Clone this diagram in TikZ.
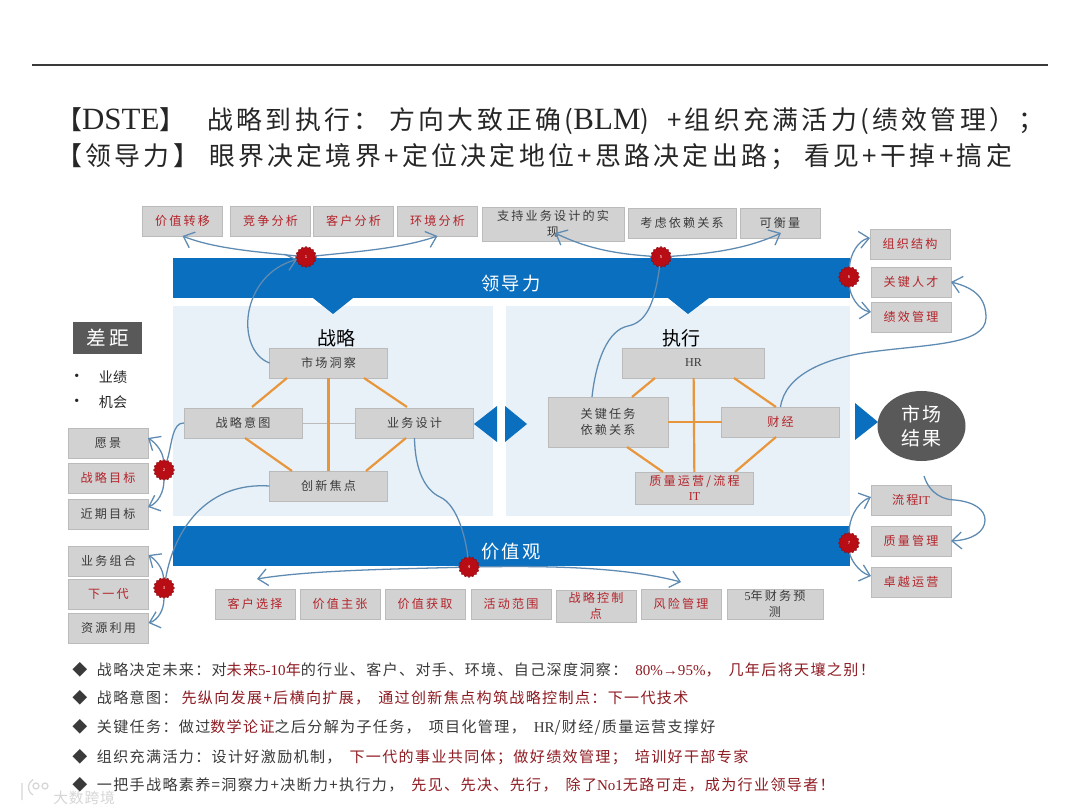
\documentclass[tikz,border=0pt]{standalone}
\usepackage{xcolor}
\usepackage{fontspec}
\usepackage{tikz}
\usetikzlibrary{shapes.geometric, arrows.meta, positioning, calc}
\setmainfont{Noto Sans CJK SC}
\newfontfamily\latfont{Liberation Serif}
\newcommand{\lat}[1]{{\latfont #1}}
\newcommand{\biglat}[1]{{\fontsize{22}{22}\latfont #1}}
\definecolor{barblue}{HTML}{0A6FBE}
\definecolor{panelblue}{HTML}{E8F1F8}
\definecolor{boxgray}{HTML}{D2D2D2}
\definecolor{boxline}{HTML}{BBBBBB}
\definecolor{darkgray}{HTML}{595959}
\definecolor{inkgray}{HTML}{3A3A3A}
\definecolor{inkred}{HTML}{B4232A}
\definecolor{noteRed}{HTML}{8E1B22}
\definecolor{edgeorange}{HTML}{E8963C}
\definecolor{curveblue}{HTML}{5F8BB3}
\definecolor{markred}{HTML}{B80D14}
\tikzset{
    boxfont/.style={font=\fontsize{8.6}{11}\selectfont\addfontfeature{LetterSpace=18}},
    graybox/.style={draw=boxline, fill=boxgray, inner sep=0pt, outer sep=0pt, minimum width=20mm, minimum height=7.5mm, align=center, text=inkgray, boxfont},
    redbox/.style={graybox, text=inkred},
    centerbox/.style={graybox, minimum width=29.5mm},
    bar/.style={fill=barblue, inner sep=0pt, outer sep=0pt, minimum width=169.25mm, minimum height=10mm},
    barlabel/.style={inner sep=0pt, text=white, font=\fontsize{13}{15}\selectfont\addfontfeature{LetterSpace=12}},
    panel/.style={fill=panelblue, inner sep=0pt, minimum height=52.5mm},
    badge/.style={star, star points=16, star point ratio=1.16, fill=markred, draw=markred!80!black, inner sep=0pt, outer sep=0pt, minimum size=5.2mm, text=white, font=\fontsize{3}{3}\selectfont},
    link/.style={edgeorange, line width=0.55mm},
    curve/.style={curveblue, line width=0.32mm},
    curvetip/.style={curve, -{Straight Barb[length=2.4mm, width=4.2mm]}},
    head/.style={font=\fontsize{13.5}{15}\selectfont, inner sep=0pt},
    titleline/.style={anchor=west, inner sep=0pt, font=\fontsize{18.4}{22}\selectfont\addfontfeature{LetterSpace=13}, text=black!85},
    noteline/.style={anchor=west, inner sep=0pt, font=\fontsize{10.7}{12}\selectfont\addfontfeature{LetterSpace=9}, text=inkgray},
    gapitem/.style={inner sep=0pt, font=\fontsize{10}{12}\selectfont, text=black!85},
    pointer/.style={fill=barblue},
    ghost/.style={black!16, line width=0.3mm}
}
\begin{document}
\begin{tikzpicture}[x=0.25mm, y=-0.25mm]
    \useasboundingbox (0,0) rectangle (1080,810);
    \fill[white] (0,0) rectangle (1080,810);
    \draw[inkgray, line width=0.4mm] (32,65) -- (1048,65);

    \node[titleline] (title1) at (56,121) {【\biglat{DSTE}】\hspace{5.5mm}战略到执行：\hspace{2.5mm}方向大致正确(\biglat{BLM})\hspace{4.5mm}+组织充满活力(绩效管理）；};
    \node[titleline] (title2) at (56,157) {【领导力】\hspace{2.5mm}眼界决定境界+定位决定地位+思路决定出路；\hspace{2mm}看见+干掉+搞定};

    \node[panel, minimum width=80mm] (panelL) at (333,411) {};
    \node[panel, minimum width=86mm] (panelR) at (678,411) {};
    \node[bar] (barT) at (511.5,278) {};
    \node[bar] (barB) at (511.5,546) {};
    \node[barlabel] (barTtext) at (511,284) {领导力};
    \node[barlabel] (barBtext) at (511,552) {价值观};
    \fill[pointer] (313,298) -- (353,298) -- (333,314) -- cycle;
    \fill[pointer] (668,298) -- (709,298) -- (688,314) -- cycle;
    \fill[pointer] (497,406) -- (497,442) -- (474,424) -- cycle;
    \fill[pointer] (505,406) -- (505,442) -- (527,424) -- cycle;
    \fill[pointer] (855,403) -- (855,440) -- (878,422) -- cycle;

    \node[redbox] (jiazhi) at (182.5,221) {价值转移};
    \node[redbox, right=2mm of jiazhi] (jingzheng) {竞争分析};
    \node[redbox, right=0.75mm of jingzheng] (kehu) {客户分析};
    \node[redbox, right=1mm of kehu] (huanjing) {环境分析};
    \node[graybox, minimum width=35.5mm, minimum height=8.5mm] (zhichi) at (553,224) {支持业务设计的实\\现};
    \node[graybox, minimum width=27mm, right=1mm of zhichi, yshift=0.25mm] (kaolv) {考虑依赖关系};
    \node[graybox, right=1mm of kaolv] (kelian) {可衡量};

    \node[redbox] (zuzhi) at (910,244) {组织结构};
    \node[redbox] (rencai) at (911,282) {关键人才};
    \node[redbox, below=1.25mm of rencai] (jixiao) {绩效管理};
    \node[redbox] (liucheng) at (911,500) {流程\lat{IT}};
    \node[redbox, below=2.75mm of liucheng] (zhiliang) {质量管理};
    \node[redbox, below=2.75mm of zhiliang] (zhuoyue) {卓越运营};

    \node[fill=darkgray, minimum width=17.25mm, minimum height=8mm, inner sep=0pt, text=white, font=\fontsize{14}{16}\selectfont\addfontfeature{LetterSpace=16}] (chaju) at (107.5,338) {差距};
    \node[gapitem] (yeji) at (113,377) {业绩};
    \node[gapitem] (jihui) at (113,402) {机会};
    \node[gapitem, left=4.75mm of yeji] (dotA) {\lat{•}};
    \node[gapitem, left=4.75mm of jihui] (dotB) {\lat{•}};

    \node[graybox] (yuanjing) at (108,443) {愿景};
    \node[redbox, below=1.25mm of yuanjing] (mubiao) {战略目标};
    \node[graybox, below=1.5mm of mubiao] (jinqi) {近期目标};
    \node[graybox] (zuhe) at (108.5,561) {业务组合};
    \node[redbox, below=0.75mm of zuhe] (xiayidai) {下一代};
    \node[graybox, below=1mm of xiayidai] (ziyuan) {资源利用};

    \node[redbox] (xuanze) at (255,604) {客户选择};
    \node[redbox, right=1.25mm of xuanze] (zhuzhang) {价值主张};
    \node[redbox, right=1.25mm of zhuzhang] (huoqu) {价值获取};
    \node[redbox, right=1.5mm of huoqu] (fanwei) {活动范围};
    \node[redbox, right=1.25mm of fanwei, minimum height=8mm, yshift=-0.5mm] (kongzhi) {战略控制\\点};
    \node[redbox, right=1.25mm of fanwei, xshift=21.25mm] (fengxian) {风险管理};
    \node[graybox, right=1.5mm of fengxian, minimum width=24mm] (yuce) {\lat{5}年财务预\\测};

    \node[head] (zhanlue) at (336,338) {战略};
    \node[head] (zhixing) at (681,338) {执行};

    \node[centerbox] (dongcha) at (328.5,363) {市场洞察};
    \node[centerbox] (yitu) at (243,423) {战略意图};
    \node[centerbox] (sheji) at (414.5,423) {业务设计};
    \node[centerbox] (jiaodian) at (328.5,486) {创新焦点};
    \node[graybox, minimum width=35.5mm] (hr) at (693.5,363) {\lat{HR}};
    \node[graybox, minimum width=30mm, minimum height=12.5mm] (renwu) at (608,422) {关键任务\\依赖关系};
    \node[centerbox, text=inkred] (caijing) at (780.5,422) {财经};
    \node[centerbox, text=inkred, minimum height=8mm] (yunying) at (694.5,488) {质量运营/流程\\\lat{IT}};

    \node[ellipse, fill=darkgray, minimum width=22mm, minimum height=17.5mm, inner sep=0pt, align=center, text=white, font=\fontsize{13.5}{17}\selectfont\addfontfeature{LetterSpace=6}] (jieguo) at (921.5,426) {市场\\结果};

    \draw[boxline, line width=0.1mm] (yitu) -- (sheji);
    \draw[link] (287,378) -- (252,407);
    \draw[link] (dongcha) -- (jiaodian);
    \draw[link] (364,378) -- (407,407);
    \draw[link] (245,438) -- (292,471);
    \draw[link] (406,438) -- (366,471);
    \draw[link] (655,378) -- (632,397);
    \draw[link] (734,378) -- (776,407);
    \draw[link] (hr) -- (yunying);
    \draw[link] (renwu) -- (caijing);
    \draw[link] (627,447) -- (663,472);
    \draw[link] (776,437) -- (735,472);

    \node[badge] (mark1) at (306,257) {1};
    \node[badge] (mark2) at (164,470) {2};
    \node[badge] (mark3) at (164,588) {3};
    \node[badge] (mark4) at (469,567) {4};
    \node[badge] (mark5) at (661,257) {5};
    \node[badge] (mark6) at (849,277) {6};
    \node[badge] (mark7) at (849,543) {7};

    \coordinate (tipA) at (555,233);
    \coordinate (tipB) at (781,233);
    \coordinate (tipC) at (257,579);
    \coordinate (tipD) at (681,582);
    \coordinate (jieguoout) at (924,476);

    \draw[curvetip] (mark1) .. controls (260,252) and (215,249) .. (jiazhi.south);
    \draw[curvetip] (mark1) .. controls (352,252) and (400,249) .. (huanjing.south);
    \draw[curvetip] (dongcha.west) .. controls (235,350) and (240,275) .. (mark1);
    \draw[curvetip] (mark5) .. controls (620,254) and (590,250) .. (tipA);
    \draw[curvetip] (mark5) .. controls (705,254) and (745,250) .. (tipB);
    \draw[curve] (renwu.north west) ++(44,0) .. controls (596,360) and (608,330) .. (628,326) .. controls (648,322) and (655,300) .. (mark5);
    \draw[curvetip] (mark2) .. controls (163,452) and (156,443) .. ([yshift=1.25mm]yuanjing.east);
    \draw[curvetip] (mark2) .. controls (164,492) and (158,503) .. ([yshift=1.75mm]jinqi.east);
    \draw[curve] (yitu.west) .. controls (172,422) and (172,445) .. (mark2);
    \draw[curvetip] (mark3) .. controls (163,568) and (156,560) .. ([yshift=1.5mm]zuhe.east);
    \draw[curvetip] (mark3) .. controls (164,610) and (158,620) .. ([yshift=1.25mm]ziyuan.east);
    \draw[curve] (jiaodian.west) .. controls (210,482) and (175,525) .. (mark3);
    \draw[curve] (sheji.south) .. controls (415,470) and (425,490) .. (440,497) .. controls (458,505) and (466,540) .. (mark4);
    \draw[curvetip] (mark4) .. controls (400,569) and (310,570) .. (tipC);
    \draw[curvetip] (mark4) .. controls (540,566) and (620,566) .. (tipD);
    \draw[curvetip] (mark6) .. controls (850,255) and (858,240) .. ([yshift=1.5mm]zuzhi.west);
    \draw[curvetip] (mark6) .. controls (850,295) and (858,310) .. ([yshift=1.25mm]jixiao.west);
    \draw[curvetip] (caijing.north) .. controls (785,375) and (825,358) .. (870,352) .. controls (930,344) and (985,345) .. (986,318) .. controls (986,298) and (975,288) .. (rencai.east);
    \draw[curvetip] (mark7) .. controls (849,520) and (856,503) .. ([yshift=0.75mm]liucheng.west);
    \draw[curvetip] (mark7) .. controls (850,558) and (858,572) .. ([yshift=1.5mm]zhuoyue.west);
    \draw[curvetip] (jieguoout) .. controls (930,495) and (945,500) .. (955,500) .. controls (975,502) and (985,510) .. (985,520) .. controls (985,532) and (972,540) .. (zhiliang.east);

    \node[noteline] (note1) at (72,670) {◆\hspace{2.4mm}战略决定未来：对\textcolor{noteRed}{未来\lat{5-10}年}的行业、客户、对手、环境、自己深度洞察：\hspace{2mm}\textcolor{noteRed}{\lat{80\%→95\%}，\hspace{2mm}几年后将天壤之别！}};
    \node[noteline] (note2) at (72,698) {◆\hspace{2.4mm}战略意图：\hspace{1mm}\textcolor{noteRed}{先纵向发展+后横向扩展，\hspace{2mm}通过创新焦点构筑战略控制点：下一代技术}};
    \node[noteline] (note3) at (72,727) {◆\hspace{2.4mm}关键任务：做过\textcolor{noteRed}{数学论证}之后分解为子任务，\hspace{2mm}项目化管理，\hspace{2mm}\lat{HR}/财经/质量运营支撑好};
    \node[noteline] (note4) at (72,757) {◆\hspace{2.4mm}组织充满活力：设计好激励机制，\hspace{2mm}\textcolor{noteRed}{下一代的事业共同体；做好绩效管理；\hspace{2mm}培训好干部专家}};
    \node[noteline] (note5) at (72,785) {◆\hspace{2.4mm}一把手战略素养=洞察力+决断力+执行力，\hspace{2mm}\textcolor{noteRed}{先见、先决、先行，\hspace{2mm}除了\lat{No1}无路可走，成为行业领导者！}};

    \draw[ghost] (36,786) circle (3) (45,786) circle (3);
    \draw[ghost] (22,783) -- (22,800) (33,795) arc (-60:60:-9);
    \node[anchor=west, inner sep=0pt, text=black!16, font=\fontsize{10.5}{12}\selectfont\addfontfeature{LetterSpace=6}] (watermark) at (53,798) {大数跨境};
\end{tikzpicture}
\end{document}
